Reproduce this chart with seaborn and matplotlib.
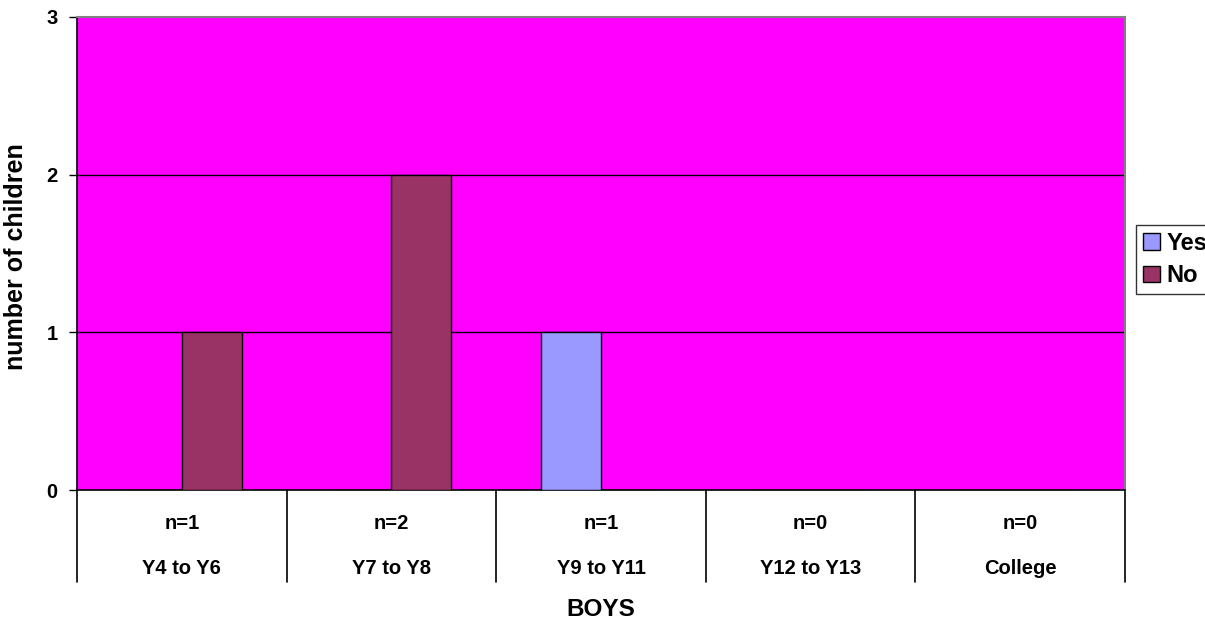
import matplotlib
matplotlib.use("Agg")
import matplotlib.pyplot as plt
import matplotlib.transforms as mtransforms
import seaborn as sns
import pandas as pd

categories = ["Y4 to Y6", "Y7 to Y8", "Y9 to Y11", "Y12 to Y13", "College"]
n_labels = ["n=1", "n=2", "n=1", "n=0", "n=0"]
yes_values = [0, 0, 1, 0, 0]
no_values = [1, 2, 0, 0, 0]
series_names = ["Yes", "No"]
y_ticks = [0, 1, 2, 3]

df = pd.DataFrame({
    "category": categories * 2,
    "series": [series_names[0]] * len(categories) + [series_names[1]] * len(categories),
    "value": yes_values + no_values,
})

sns.set_theme(style="white")
plt.rcParams["font.family"] = ["Liberation Sans", "DejaVu Sans"]
plt.rcParams["font.weight"] = "bold"
plt.rcParams["text.color"] = "black"
plt.rcParams["axes.labelcolor"] = "black"
plt.rcParams["ytick.color"] = "black"
plt.rcParams["xtick.color"] = "black"

fig = plt.figure(figsize=(12.05, 6.21), dpi=100)
ax = fig.add_axes([77 / 1205, 1 - 490 / 621, (1125 - 77) / 1205, (490 - 17) / 621])

palette = {"Yes": "#9999FF", "No": "#993366"}
sns.barplot(data=df, x="category", y="value", hue="series", order=categories,
            hue_order=series_names, palette=palette, width=0.57, ax=ax,
            edgecolor="black", linewidth=1, saturation=1, legend=True, zorder=3)

ax.set_facecolor("#FF00FF")
ax.set_xlim(-0.5, len(categories) - 0.5)
ax.set_ylim(y_ticks[0], y_ticks[-1])
ax.set_yticks(y_ticks)
ax.set_yticklabels([str(t) for t in y_ticks], fontsize=14.5, fontweight="bold", color="black")
ax.tick_params(axis="y", length=6, width=1, color="black", direction="out", pad=8, left=True)
ax.set_xticks([])
ax.set_xlabel("")
ax.set_ylabel("number of children", fontsize=18, fontweight="bold", color="black")
ax.yaxis.set_label_coords(-0.0468, 0.4926)

for t in y_ticks[1:-1]:
    ax.axhline(t, color="black", lw=1, zorder=1)

for side in ["top", "right"]:
    ax.spines[side].set_color("#808080")
    ax.spines[side].set_linewidth(1.5)
for side in ["left", "bottom"]:
    ax.spines[side].set_color("black")
    ax.spines[side].set_linewidth(1.2)

trans = mtransforms.blended_transform_factory(ax.transData, ax.transAxes)
for i in range(len(categories) + 1):
    ax.plot([i - 0.5, i - 0.5], [0, -0.194], transform=trans, color="black",
            lw=1.2, clip_on=False)
for i, (cat, nl) in enumerate(zip(categories, n_labels)):
    ax.text(i, -0.0698, nl, transform=trans, ha="center", va="center",
            fontsize=14.5, fontweight="bold", color="black")
    ax.text(i, -0.165, cat, transform=trans, ha="center", va="center",
            fontsize=14.5, fontweight="bold", color="black")
ax.text(0.5, -0.2516, "BOYS", transform=ax.transAxes, ha="center", va="center",
        fontsize=17.5, fontweight="bold", color="black")

ax.legend_.remove()
handles = [plt.Rectangle((0, 0), 1, 1, facecolor=palette[s], edgecolor="black", lw=1)
           for s in series_names]
leg = fig.legend(handles, series_names, loc="center left", bbox_to_anchor=(1136 / 1205, 1 - 259.5 / 621),
                 borderaxespad=0, frameon=True, fancybox=False, handlelength=0.7,
                 handleheight=0.7, handletextpad=0.3, borderpad=0.3, labelspacing=0.4,
                 prop={"size": 17, "weight": "bold"})
leg.get_frame().set_edgecolor("black")
leg.get_frame().set_linewidth(1)
for txt in leg.get_texts():
    txt.set_color("black")

fig.savefig("out.png", dpi=100)
